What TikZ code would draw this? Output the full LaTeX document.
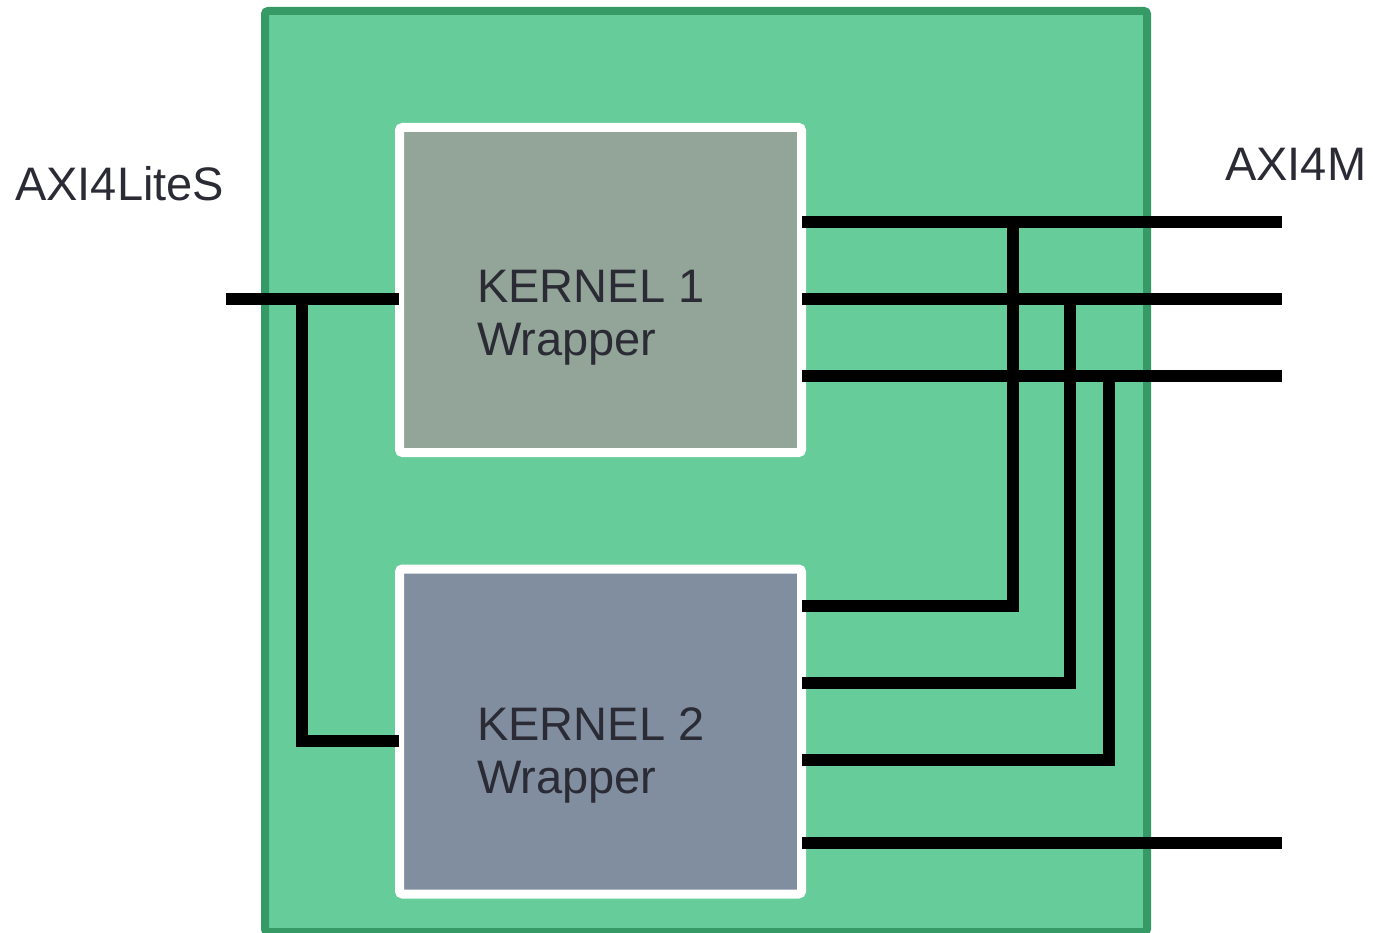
\documentclass[tikz,border=0pt]{standalone}
\usepackage{fontspec}
\setmainfont{Liberation Sans}
\definecolor{boxgreen}{HTML}{66CC99}
\definecolor{boxedge}{HTML}{369A66}
\definecolor{kone}{HTML}{93A598}
\definecolor{ktwo}{HTML}{808EA0}
\definecolor{txt}{HTML}{2B2B35}
\tikzset{
  kernel/.style={draw=white, line width=9pt, rounded corners=3pt, minimum width=402pt, minimum height=325pt, inner sep=0pt},
  wire/.style={line width=12pt, black, line cap=butt, line join=miter},
  lbl/.style={font=\fontsize{47}{54}\selectfont, text=txt, inner sep=0pt, anchor=base west},
}
\begin{document}
\begin{tikzpicture}[x=1pt, y=-1pt]
\useasboundingbox (0,0) rectangle (1373,933);
% outer block
\node[draw=boxedge, fill=boxgreen, line width=8pt, rounded corners=3pt, minimum width=882pt, minimum height=921pt, inner sep=0pt] (fpga) at (706,471.5) {};
% kernels
\node[kernel, fill=kone] (k1) at (600.5,290) {};
\node[kernel, fill=ktwo] (k2) at (600.5,731.5) {};
\node[lbl] (t1) at (477,302) {KERNEL 1};
\node[lbl] (t1b) at (477,355) {Wrapper};
\node[lbl] (t2) at (477,740) {KERNEL 2};
\node[lbl] (t2b) at (477,793) {Wrapper};
\node[lbl] (axis) at (15,201) {AXI4LiteS};
\node[lbl] (axim) at (1225,181) {AXI4M};
% coordinates
\coordinate (sIn) at (226,299);
\coordinate (k1s) at (399,299);
\coordinate (k2s) at (399,741);
\coordinate (jS) at (302,299);
\coordinate (k1a) at (802,222);
\coordinate (k1b) at (802,299);
\coordinate (k1c) at (802,376);
\coordinate (k2a) at (802,606);
\coordinate (k2b) at (802,683);
\coordinate (k2c) at (802,760);
\coordinate (k2d) at (802,843);
\coordinate (oa) at (1282,222);
\coordinate (ob) at (1282,299);
\coordinate (oc) at (1282,376);
\coordinate (od) at (1282,843);
% wires
\draw[wire] (sIn) -- (k1s);
\draw[wire] (jS) |- (k2s);
\draw[wire] (k1a) -- (oa);
\draw[wire] (k1b) -- (ob);
\draw[wire] (k1c) -- (oc);
\draw[wire] (k2a) -| (1013,222);
\draw[wire] (k2b) -| (1070,299);
\draw[wire] (k2c) -| (1109,376);
\draw[wire] (k2d) -- (od);
\end{tikzpicture}
\end{document}
